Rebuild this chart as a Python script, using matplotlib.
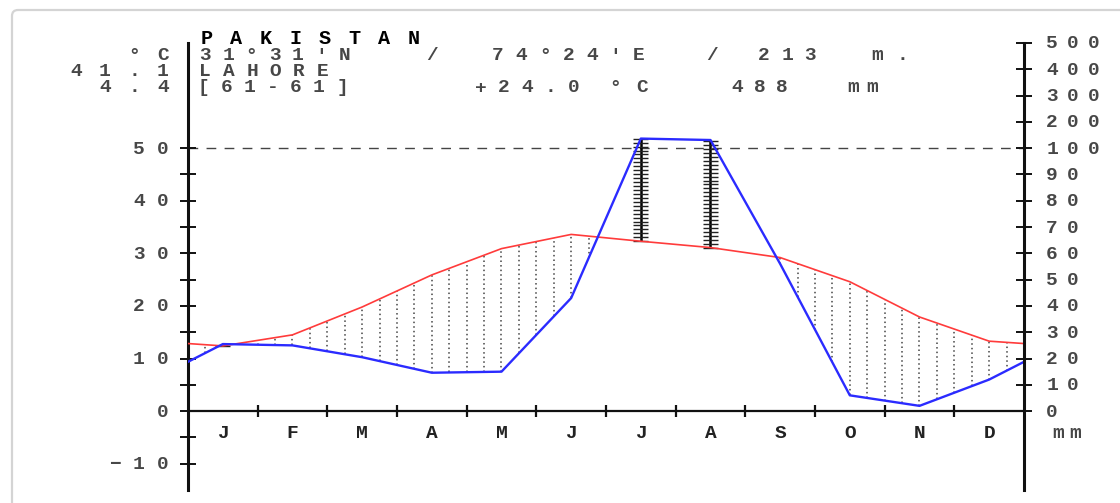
import numpy as np
import matplotlib
matplotlib.use("Agg")
from matplotlib import pyplot as plt
from matplotlib.transforms import IdentityTransform
from matplotlib.patches import FancyBboxPatch

# Lahore climate diagram (Walter-Lieth style)
months = ['J', 'F', 'M', 'A', 'M', 'J', 'J', 'A', 'S', 'O', 'N', 'D']
temp = [12.4, 14.5, 19.8, 25.9, 30.9, 33.6, 32.3, 31.1, 29.2, 24.6, 17.9, 13.3]   # °C
prec = [25.5, 25.0, 20.5, 14.6, 15.0, 43.0, 136.5, 131.0, 56.0, 6.0, 2.0, 12.0]  # mm

left_ticks = [-10, 0, 10, 20, 30, 40, 50]
right_ticks_mm = [0, 10, 20, 30, 40, 50, 60, 70, 80, 90, 100, 200, 300, 400, 500]

country = 'PAKISTAN'
station = 'LAHORE'
coords = ["31°31'N", "/", "74°24'E", "/", "213", "m."]
period = ['[61-61]', '+24.0', '°C', '488', 'mm']
left_info = ['°C', '41.1', '4.4']

W, H = 1120, 503
MONO = 'Liberation Mono'


def mm_to_scale(p):
    # 20 mm = 10 °C up to 100 mm, then 200 mm = 10 °C
    return p / 2.0 if p <= 100 else 50 + (p - 100) / 20.0


fig = plt.figure(figsize=(W / 100, H / 100), dpi=100)
fig.patch.set_facecolor('white')


def spaced(x, y, s, pitch, align='left', size=14, weight='bold', color='#474747'):
    # x, y in display pixels (origin bottom left), x = centre of first/last glyph,
    # y = vertical centre of capitals
    if align == 'right':
        x = x - (len(s) - 1) * pitch
    for i, ch in enumerate(s):
        if ch != ' ':
            fig.text(x + i * pitch, y - 5.5, ch, transform=IdentityTransform(),
                     ha='center', va='baseline', family=MONO, fontsize=size,
                     fontweight=weight, color=color)


def top(y):
    return H - y


# card border of the screenshot
fig.patches.append(FancyBboxPatch((12, -40), 1200, top(10) + 40,
                                  boxstyle='round,pad=0,rounding_size=6',
                                  transform=IdentityTransform(), fill=False,
                                  edgecolor='#d4d4d4', lw=1.6))

ax = fig.add_axes([188 / W, (H - 490) / H, (1024 - 188) / W, (490 - 43) / H])
ax.set_xlim(0, 12)
ax.set_ylim(-15, 70)
ax.patch.set_alpha(0)

# curves start / end at the year boundary (mean of Dec and Jan)
xs = np.concatenate([[0], np.arange(len(months)) + 0.5, [len(months)]])
ps = [mm_to_scale(p) for p in prec]
t_line = np.array([(temp[0] + temp[-1]) / 2] + temp + [(temp[0] + temp[-1]) / 2])
p_line = np.array([(ps[0] + ps[-1]) / 2] + ps + [(ps[0] + ps[-1]) / 2])

# dry season: vertical dotted hatching every quarter month
for xq in np.arange(0.25, 12, 0.25):
    t = np.interp(xq, xs, t_line)
    p = np.interp(xq, xs, p_line)
    if t > p:
        ax.vlines(xq, p, t, colors='#444444', lw=1.1, linestyles=(0, (1, 2)), zorder=2)

# humid months: ladder bars at month centres
for i, (t, p) in enumerate(zip(temp, ps)):
    if p > t:
        c = i + 0.5
        ax.vlines(c, t, p, colors='black', lw=1.8, zorder=3)
        ys = np.arange(t, p, 0.75)
        ax.hlines(ys, c - 0.11, c + 0.11, colors='#222222', lw=1, zorder=3)

ax.plot(xs, t_line, color='#ff3b3b', lw=1.2, zorder=4)
ax.plot(xs, p_line, color='#2b2bff', lw=1.7, zorder=5)

ax.axhline(0, color='#111111', lw=1.6, zorder=6)
ax.axhline(50, color='#444444', lw=1, ls=(0, (7, 6)), zorder=1)
ax.plot(np.arange(1, len(months)), np.zeros(len(months) - 1), ls='none',
        marker='|', ms=8, mew=1.6, color='#111111', zorder=6)

for s in ['top', 'bottom', 'right']:
    ax.spines[s].set_visible(False)
ax.spines['left'].set_linewidth(2.2)
ax.spines['left'].set_color('#111111')
ax.set_xticks([])
ax.set_yticks(np.arange(-10, 55, 5))
ax.tick_params(axis='y', direction='inout', length=12, width=1.4,
               color='#111111', labelleft=False)

ax2 = ax.twinx()
ax2.set_ylim(-15, 70)
for s in ['top', 'bottom', 'left']:
    ax2.spines[s].set_visible(False)
ax2.spines['right'].set_linewidth(2.2)
ax2.spines['right'].set_color('#111111')
ax2.set_yticks([mm_to_scale(v) for v in right_ticks_mm])
ax2.tick_params(axis='y', direction='inout', length=12, width=1.4,
                color='#111111', labelright=False)

# tick labels
for v in left_ticks:
    _, yd = ax.transData.transform((0, v))
    spaced(163, yd, str(v).replace('-', '−'), 24, align='right')
for v in right_ticks_mm:
    _, yd = ax2.transData.transform((0, mm_to_scale(v)))
    spaced(1052, yd, str(v), 21)
for i, m in enumerate(months):
    xd, yd = ax.transData.transform((i + 0.5, -4.0))
    spaced(xd, yd, m, 20, color='#222222')
spaced(1058, top(432), 'mm', 17)

# header
spaced(207, top(38), country, 29.5, size=14.5, color='black')
spaced(205, top(55), coords[0], 23.2)
spaced(432, top(55), coords[1], 23.2)
spaced(498, top(55), coords[2], 23.5)
spaced(712, top(55), coords[3], 23.2)
spaced(764, top(55), coords[4], 23.2)
spaced(877, top(55), coords[5], 25)
spaced(205, top(71), station, 23.5)
spaced(203, top(87), period[0], 23.2)
spaced(481, top(87), period[1], 23.2)
spaced(615, top(87), period[2], 27)
spaced(737, top(87), period[3], 22.5)
spaced(853, top(87), period[4], 19)
for label, y in zip(left_info, [55, 71, 86]):
    spaced(163, top(y), label, 29, align='right')

fig.savefig('out.png', dpi=100)
